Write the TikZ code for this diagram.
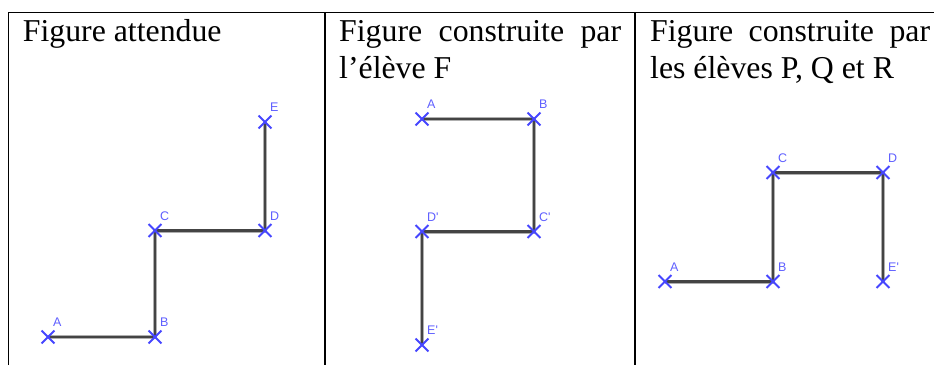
\documentclass[tikz,border=0pt]{standalone}
\usepackage{fontspec}
\setmainfont{Liberation Serif}
\newfontfamily\lblfont{Liberation Sans}
\usetikzlibrary{shapes.misc}
\definecolor{ptblue}{RGB}{70,70,255}
\definecolor{lblblue}{RGB}{95,95,255}
\definecolor{segdark}{RGB}{68,68,68}
\definecolor{seglight}{RGB}{175,175,175}
\begin{document}
\begin{tikzpicture}[x=1pt,y=-1pt,
  hdr/.style={anchor=base west,inner sep=0pt,font=\fontsize{31.8}{36}\selectfont},
  ptlbl/.style={anchor=base west,inner sep=0pt,text=lblblue,font=\lblfont\fontsize{12.5}{13}\selectfont},
  segment/.style={draw=segdark,line width=2.4pt,preaction={draw=seglight,line width=4pt}},
  ptmark/.style={cross out,draw=ptblue,line width=1.9pt,minimum size=11pt,inner sep=0pt},
  rule/.style={draw=black,line width=1.3pt}]
\useasboundingbox (0,0) rectangle (934,365);
% table rules
\coordinate (tl) at (8.5,12.5);
\coordinate (tr) at (934,12.5);
\coordinate (bl) at (8.5,365);
\coordinate (s1t) at (325,12.5);
\coordinate (s1b) at (325,365);
\coordinate (s2t) at (635,12.5);
\coordinate (s2b) at (635,365);
\draw[rule] (bl) -- (tl) -- (tr);
\draw[rule] (s1t) -- (s1b);
\draw[rule] (s2t) -- (s2b);
% headers
\node[hdr] (h1) at (22.7,41.7) {Figure attendue};
\node[hdr] (h2a) at (339,41.7) {\makebox[282pt][s]{Figure construite par}};
\node[hdr] (h2b) at (339,78.3) {l’élève F};
\node[hdr] (h3a) at (650,41.7) {\makebox[280pt][s]{Figure construite par}};
\node[hdr] (h3b) at (650,78.3) {les élèves P, Q et R};
% figure 1
\coordinate (A1) at (48,337);
\coordinate (B1) at (155,337);
\coordinate (C1) at (155,230.5);
\coordinate (D1) at (265,230.5);
\coordinate (E1) at (265,122);
\draw[segment] (A1) -- (B1) -- (C1) -- (D1) -- (E1);
% figure 2
\coordinate (A2) at (422,119);
\coordinate (B2) at (534,119);
\coordinate (C2) at (534,231.5);
\coordinate (D2) at (422,231.5);
\coordinate (E2) at (422,345);
\draw[segment] (A2) -- (B2) -- (C2) -- (D2) -- (E2);
% figure 3
\coordinate (A3) at (665,281.5);
\coordinate (B3) at (773,281.5);
\coordinate (C3) at (773,172.5);
\coordinate (D3) at (883,172.5);
\coordinate (E3) at (883,281.5);
\draw[segment] (A3) -- (B3) -- (C3) -- (D3) -- (E3);
% markers and labels
\foreach \p/\t in {A1/A,B1/B,C1/C,D1/D,E1/E,A2/A,B2/B,C2/C',D2/D',E2/E',A3/A,B3/B,C3/C,D3/D,E3/E'}{
  \node[ptmark] (m\p) at (\p) {};
  \path (\p) ++(5,-10.5) node[ptlbl] (l\p) {\t};
}
\end{tikzpicture}
\end{document}
